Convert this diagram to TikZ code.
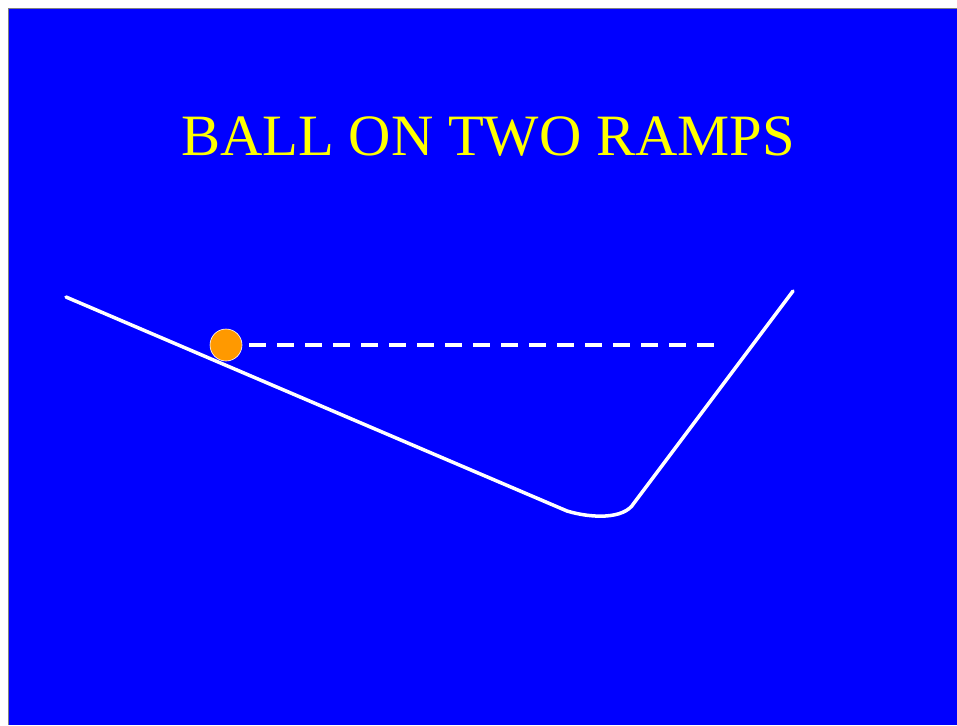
\documentclass[tikz,border=0pt]{standalone}
\usepackage{fontspec}
\setmainfont{Liberation Serif}
\definecolor{bg}{RGB}{0,0,255}
\definecolor{ballc}{RGB}{255,153,0}
\definecolor{ttl}{RGB}{255,255,0}
\begin{document}
\begin{tikzpicture}[x=1pt,y=-1pt,
  ramp/.style={draw=white,line width=3.5pt,line cap=round},
  level/.style={draw=white,line width=4pt,dash pattern=on 17pt off 11pt},
  ballstyle/.style={circle,fill=ballc,draw=white,line width=0.6pt,minimum size=32pt,inner sep=0pt}]
\useasboundingbox (0,0) rectangle (957,725);
\fill[white] (0,0) rectangle (957,725);
\fill[bg] (8,8) rectangle (957,725);
\draw[gray,line width=1.2pt] (8.5,725) -- (8.5,8.5) -- (957,8.5);
\node[text=ttl,font=\fontsize{58.6}{62}\selectfont,anchor=base] (title) at (488,155) {BALL ON TWO RAMPS};
\coordinate (lt) at (66,297);
\coordinate (lb) at (567,511);
\coordinate (rb) at (634,503);
\coordinate (rt) at (793,291);
\draw[ramp] (lt) -- (lb) .. controls (590,518) and (624,520) .. (rb) -- (rt);
\coordinate (ds) at (249,345);
\coordinate (de) at (714,345);
\draw[level] (ds) -- (de);
\node[ballstyle] (ball) at (226,345) {};
\end{tikzpicture}
\end{document}
